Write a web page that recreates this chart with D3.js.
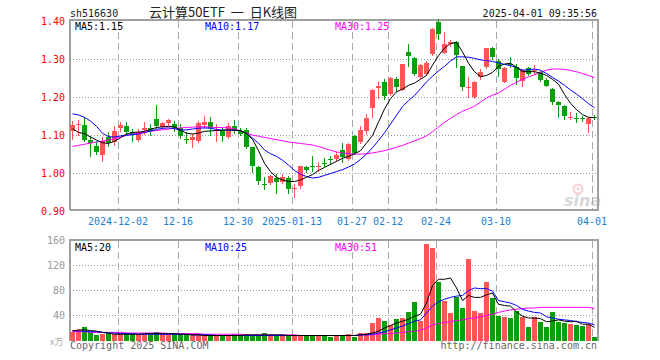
<!DOCTYPE html>
<html>
<head>
<meta charset="utf-8">
<script src="https://cdn.jsdelivr.net/npm/d3@7/dist/d3.min.js"></script>
<style>
body { margin: 0; background: #fff; }
svg { display: block; }
</style>
</head>
<body>
<div id="chart"></div>
<script>
const dates = [
	"2024-11-20","2024-11-21","2024-11-22","2024-11-25","2024-11-26","2024-11-27","2024-11-28","2024-11-29",
	"2024-12-02","2024-12-03","2024-12-04","2024-12-05","2024-12-06","2024-12-09","2024-12-10","2024-12-11","2024-12-12","2024-12-13",
	"2024-12-16","2024-12-17","2024-12-18","2024-12-19","2024-12-20","2024-12-23","2024-12-24","2024-12-25","2024-12-26","2024-12-27",
	"2024-12-30","2024-12-31","2025-01-02","2025-01-03","2025-01-06","2025-01-07","2025-01-08","2025-01-09","2025-01-10",
	"2025-01-13","2025-01-14","2025-01-15","2025-01-16","2025-01-17","2025-01-20","2025-01-21","2025-01-22","2025-01-23","2025-01-24",
	"2025-01-27","2025-02-05","2025-02-06","2025-02-07","2025-02-10","2025-02-11",
	"2025-02-12","2025-02-13","2025-02-14","2025-02-17","2025-02-18","2025-02-19","2025-02-20","2025-02-21",
	"2025-02-24","2025-02-25","2025-02-26","2025-02-27","2025-02-28","2025-03-03","2025-03-04","2025-03-05","2025-03-06","2025-03-07",
	"2025-03-10","2025-03-11","2025-03-12","2025-03-13","2025-03-14","2025-03-17","2025-03-18","2025-03-19","2025-03-20","2025-03-21",
	"2025-03-24","2025-03-25","2025-03-26","2025-03-27","2025-03-28","2025-03-31","2025-04-01"
];

const open = [
	1.111,1.127,1.128,1.088,1.073,1.048,1.095,1.082,1.120,1.126,
	1.110,1.088,1.114,1.120,1.143,1.123,1.134,1.131,1.120,1.091,
	1.088,1.086,1.128,1.136,1.112,1.113,1.095,1.126,1.113,1.115,
	1.069,1.018,0.972,0.974,0.989,0.977,0.987,0.960,0.968,1.018,
	1.019,1.018,1.028,1.039,1.038,1.062,1.038,1.099,1.084,1.113,
	1.172,1.225,1.242,1.210,1.249,1.221,1.321,1.304,1.254,1.263,
	1.315,1.399,1.317,1.342,1.346,1.284,1.226,1.201,1.255,1.280,
	1.330,1.297,1.242,1.289,1.281,1.244,1.278,1.271,1.266,1.247,
	1.222,1.187,1.178,1.146,1.147,1.146,1.130,1.150
];
const high = [
	1.139,1.141,1.149,1.099,1.086,1.095,1.108,1.124,1.135,1.135,
	1.117,1.117,1.136,1.130,1.181,1.135,1.143,1.139,1.130,1.108,
	1.105,1.137,1.152,1.149,1.130,1.121,1.132,1.141,1.120,1.120,
	1.071,1.021,0.992,0.996,0.999,0.999,0.994,0.972,1.021,1.021,
	1.047,1.031,1.040,1.047,1.057,1.079,1.080,1.102,1.126,1.157,
	1.222,1.244,1.249,1.254,1.254,1.289,1.342,1.307,1.289,1.295,
	1.383,1.406,1.372,1.350,1.348,1.284,1.253,1.243,1.275,1.331,
	1.333,1.301,1.279,1.307,1.288,1.275,1.281,1.286,1.269,1.251,
	1.225,1.192,1.181,1.163,1.158,1.152,1.148,1.155
];
const low = [
	1.092,1.102,1.086,1.045,1.051,1.032,1.073,1.076,1.113,1.100,
	1.086,1.086,1.105,1.100,1.121,1.120,1.128,1.113,1.093,1.080,
	1.070,1.082,1.121,1.100,1.086,1.086,1.093,1.107,1.100,1.067,
	1.005,0.972,0.959,0.972,0.950,0.974,0.950,0.939,0.963,1.003,
	1.007,1.006,1.019,1.025,1.032,1.029,1.035,1.051,1.079,1.105,
	1.148,1.200,1.196,1.207,1.218,1.219,1.284,1.258,1.251,1.258,
	1.313,1.355,1.317,1.336,1.280,1.219,1.201,1.199,1.249,1.277,
	1.300,1.257,1.240,1.279,1.236,1.231,1.260,1.262,1.244,1.229,
	1.183,1.149,1.143,1.143,1.135,1.137,1.108,1.143
];
const close = [
	1.128,1.129,1.089,1.079,1.057,1.086,1.080,1.113,1.128,1.108,
	1.100,1.108,1.121,1.111,1.126,1.132,1.140,1.120,1.099,1.089,
	1.095,1.132,1.136,1.120,1.114,1.098,1.126,1.113,1.104,1.071,
	1.020,0.979,0.970,0.994,0.977,0.992,0.959,0.962,1.019,1.009,
	1.018,1.020,1.027,1.038,1.049,1.044,1.078,1.055,1.115,1.146,
	1.220,1.231,1.205,1.251,1.228,1.289,1.308,1.263,1.286,1.290,
	1.381,1.368,1.342,1.345,1.311,1.228,1.228,1.241,1.266,1.329,
	1.306,1.275,1.278,1.287,1.251,1.272,1.262,1.273,1.247,1.231,
	1.189,1.180,1.152,1.148,1.145,1.145,1.146,1.149
];
const volume = [
	13,17,21,14,8,10,12,11,11,12,
	11,11,11,10,14,10,10,11,11,10,
	10,10,10,8,8,8,8,10,11,10,
	8,8,12,8,9,9,8,8,8,8,
	8,8,7,5,7,7,10,6,12,12,
	28,36,32,25,35,36,45,62,31,154,
	148,93,64,44,69,52,130,48,44,93,
	68,39,37,36,48,37,21,37,30,21,
	45,29,28,27,25,23,27,5
];

const ma5 = [
	1.118,1.108,1.105,1.096,1.088,1.081,1.079,1.085,1.094,1.104,
	1.108,1.109,1.111,1.116,1.121,1.123,1.124,1.123,1.114,1.106,
	1.104,1.106,1.111,1.112,1.113,1.114,1.115,1.114,1.113,1.105,
	1.090,1.060,1.027,1.005,0.990,0.983,0.979,0.979,0.983,0.990,
	0.997,1.008,1.016,1.024,1.032,1.040,1.045,1.052,1.060,1.080,
	1.100,1.135,1.170,1.197,1.215,1.222,1.232,1.238,1.248,1.258,
	1.285,1.310,1.330,1.342,1.345,1.320,1.290,1.268,1.255,1.258,
	1.266,1.282,1.288,1.290,1.280,1.268,1.268,1.268,1.264,1.258,
	1.248,1.235,1.208,1.185,1.168,1.155,1.148,1.147
];
const ma10 = [
	1.157,1.154,1.148,1.138,1.124,1.106,1.097,1.096,1.099,1.101,
	1.102,1.104,1.108,1.112,1.116,1.119,1.120,1.118,1.114,1.115,
	1.117,1.119,1.120,1.119,1.116,1.114,1.114,1.113,1.113,1.105,
	1.093,1.080,1.062,1.052,1.045,1.035,1.022,1.008,0.998,0.992,
	0.988,0.990,0.995,1.000,1.005,1.010,1.017,1.025,1.037,1.051,
	1.068,1.087,1.107,1.130,1.153,1.176,1.192,1.205,1.223,1.241,
	1.256,1.270,1.282,1.296,1.307,1.307,1.306,1.303,1.299,1.297,
	1.295,1.291,1.287,1.284,1.279,1.272,1.273,1.275,1.272,1.263,
	1.253,1.243,1.232,1.220,1.209,1.197,1.184,1.173
];
const ma30 = [
	1.071,1.074,1.077,1.080,1.083,1.085,1.088,1.092,1.096,1.100,
	1.104,1.106,1.108,1.111,1.113,1.115,1.117,1.119,1.120,1.121,
	1.122,1.123,1.123,1.122,1.121,1.121,1.120,1.118,1.112,1.106,
	1.101,1.098,1.095,1.092,1.089,1.086,1.083,1.081,1.079,1.077,
	1.075,1.071,1.066,1.061,1.057,1.054,1.052,1.051,1.051,1.052,
	1.054,1.057,1.060,1.064,1.069,1.074,1.080,1.086,1.092,1.099,
	1.110,1.122,1.135,1.145,1.155,1.164,1.170,1.177,1.188,1.199,
	1.206,1.212,1.222,1.232,1.240,1.248,1.254,1.260,1.266,1.272,
	1.275,1.275,1.274,1.271,1.268,1.263,1.258,1.252
];
const volMa5 = [
	15,17,17,16,15,13,12,10,10,10,
	10,10,11,11,11,11,11,11,10,10,
	9,9,8,8,8,8,8,8,8,9,
	9,9,9,9,9,9,8,8,8,8,
	8,8,8,8,8,8,8,8,9,10,
	12,15,20,24,28,31,34,39,42,60,
	88,98,98,100,84,64,72,69,69,73,
	76,58,56,55,46,39,36,36,35,30,
	31,33,31,30,31,26,26,21
];
const volMa10 = [
	16,15,15,14,14,13,12,12,11,11,
	11,10,10,10,10,10,10,10,10,10,
	9,9,9,9,8,8,8,8,8,8,
	8,8,8,8,8,8,8,8,8,8,
	8,8,8,8,8,8,8,8,9,9,
	10,12,14,17,20,23,27,31,33,44,
	55,62,66,69,71,72,80,84,83,83,
	79,64,62,60,56,50,47,45,44,38,
	36,34,33,32,30,29,28,25
];
const volMa30 = [
	14,14,14,13,13,13,13,13,13,12,
	12,12,12,12,12,12,11,11,11,11,
	11,11,10,10,10,10,10,10,10,9,
	9,9,9,9,9,9,9,9,8,8,
	8,8,8,8,8,8,8,8,9,9,
	9,10,11,11,12,13,14,15,16,20,
	25,27,29,30,32,33,35,36,38,40,
	42,45,47,49,50,51,52,52,53,53,
	53,53,53,53,53,53,53,51
];

const priceTicks = [0.9, 1.0, 1.1, 1.2, 1.3, 1.4];
const volTicks = [40, 80, 120, 160];
const dateTicks = ["2024-12-02","2024-12-16","2024-12-30","2025-01-13","2025-01-27","2025-02-12","2025-02-24","2025-03-10","2025-04-01"];
const dateLabels = ["2024-12-02","12-16","12-30","2025-01-13","01-27","02-12","02-24","03-10","04-01"];

const RED = "#ff5555", GREEN = "#08a008";
const mono = "'DejaVu Sans Mono', monospace";

const svg = d3.select("#chart")
	.append("svg")
	.attr("width", 660)
	.attr("height", 360)
	.style("background-color", "white");

const x = d3.scaleBand().domain(dates).range([69.5, 597.5]).paddingInner(1 / 6).paddingOuter(1 / 12);
const y = d3.scaleLinear().domain([0.9, 1.4]).range([211.5, 21.5]);
const vy = d3.scaleLinear().domain([0, 160]).range([340.5, 240.5]);
const left = d => Math.round(x(d));

// grid
svg.append("g")
	.selectAll("line")
	.data([1.0, 1.1, 1.2, 1.3])
	.join("line")
	.attr("x1", 70).attr("x2", 597)
	.attr("y1", d => Math.floor(y(d)) + 0.5).attr("y2", d => Math.floor(y(d)) + 0.5)
	.attr("stroke", "#999").attr("stroke-dasharray", "1,2");

svg.append("g")
	.selectAll("line")
	.data([40, 80, 120])
	.join("line")
	.attr("x1", 70).attr("x2", 597)
	.attr("y1", d => Math.floor(vy(d)) + 0.5).attr("y2", d => Math.floor(vy(d)) + 0.5)
	.attr("stroke", "#999").attr("stroke-dasharray", "1,2");

for (let [y1, y2] of [[21, 209], [241, 340]]) {
	svg.append("g")
		.selectAll("line")
		.data(dateTicks)
		.join("line")
		.attr("x1", d => left(d) + 0.5).attr("x2", d => left(d) + 0.5)
		.attr("y1", y1).attr("y2", y2)
		.attr("stroke", "#aaa").attr("stroke-dasharray", "7,4");
}

// frames
svg.append("path")
	.attr("d", "M70,210V20H598V210H70")
	.attr("fill", "none").attr("stroke", "#a0a0a0").attr("stroke-width", 2);
svg.append("path")
	.attr("d", "M70,341V240H598V341")
	.attr("fill", "none").attr("stroke", "#a0a0a0").attr("stroke-width", 2);

// sina watermark
const logo = svg.append("g").attr("opacity", 0.45);
logo.append("circle").attr("cx", 578).attr("cy", 189).attr("r", 4.5)
	.attr("fill", "none").attr("stroke", "#ef9a9a").attr("stroke-width", 2);
logo.append("circle").attr("cx", 578).attr("cy", 189).attr("r", 1.5).attr("fill", "#ef9a9a");
logo.append("text").attr("x", 564).attr("y", 206)
	.attr("font-family", "'DejaVu Sans', sans-serif").attr("font-size", 16)
	.attr("font-weight", "bold").attr("font-style", "italic")
	.attr("fill", "#a8a8a8").text("sina");

// candles
const idx = d3.range(dates.length);
const up = i => close[i] >= open[i];

svg.append("g")
	.selectAll("line")
	.data(idx)
	.join("line")
	.attr("x1", i => left(dates[i]) + 2.5).attr("x2", i => left(dates[i]) + 2.5)
	.attr("y1", i => Math.round(y(high[i]))).attr("y2", i => Math.round(y(low[i])) + 1)
	.attr("stroke", i => up(i) ? RED : GREEN);

svg.append("g")
	.selectAll("rect")
	.data(idx)
	.join("rect")
	.attr("x", i => left(dates[i]))
	.attr("width", x.bandwidth())
	.attr("y", i => Math.round(y(Math.max(open[i], close[i]))))
	.attr("height", i => Math.max(1, Math.round(y(Math.min(open[i], close[i]))) - Math.round(y(Math.max(open[i], close[i])))))
	.attr("fill", i => up(i) ? RED : GREEN);

// volume bars
svg.append("g")
	.selectAll("rect")
	.data(idx)
	.join("rect")
	.attr("x", i => left(dates[i]))
	.attr("width", x.bandwidth())
	.attr("y", i => Math.round(vy(volume[i])))
	.attr("height", i => 341 - Math.round(vy(volume[i])))
	.attr("fill", i => up(i) ? RED : GREEN);

// moving averages
const mid = i => left(dates[i]) + 2.5;
for (let [data, scale, color] of [
	[ma30, y, "#ff00ff"], [ma10, y, "#0000ff"], [ma5, y, "#000"],
	[volMa30, vy, "#ff00ff"], [volMa10, vy, "#0000ff"], [volMa5, vy, "#000"]
]) {
	svg.append("path")
		.datum(data)
		.attr("fill", "none")
		.attr("stroke", color)
		.attr("stroke-width", 1)
		.attr("d", d3.line().x((d, i) => mid(i)).y(d => scale(d)));
}

// axes
svg.append("g")
	.attr("transform", "translate(70,0)")
	.call(d3.axisLeft(y).tickValues(priceTicks).tickSize(0).tickPadding(5).tickFormat(d3.format(".2f")))
	.call(g => g.select(".domain").remove())
	.selectAll("text")
	.attr("fill", "#ff0000").attr("font-family", mono).attr("font-size", 10);

svg.append("g")
	.attr("transform", "translate(70,0)")
	.call(d3.axisLeft(vy).tickValues(volTicks).tickSize(0).tickPadding(5).tickFormat(d3.format("d")))
	.call(g => g.select(".domain").remove())
	.selectAll("text")
	.attr("fill", "#999").attr("font-family", mono).attr("font-size", 10);

svg.append("g")
	.selectAll("text")
	.data(dateTicks)
	.join("text")
	.attr("x", d => left(d))
	.attr("y", 224.5)
	.attr("text-anchor", "middle")
	.attr("font-family", mono).attr("font-size", 10)
	.attr("fill", "#1a7fd4")
	.text((d, i) => dateLabels[i]);

// texts
const txt = (tx, ty, s, color, anchor, family, size) => svg.append("text")
	.attr("x", tx).attr("y", ty)
	.attr("text-anchor", anchor || "start")
	.attr("font-family", family || mono)
	.attr("font-size", size || 10)
	.attr("fill", color)
	.style("white-space", "pre")
	.text(s);

txt(70, 16.5, "sh516630", "#222");
txt(223, 16.5, "云计算50ETF  一  日K线图", "#222", "middle", "'Noto Sans CJK SC', sans-serif", 13);
txt(597, 16.5, "2025-04-01 09:35:56", "#111", "end");

txt(75, 30, "MA5:" + d3.format(".2f")(ma5[ma5.length - 1]), "#000");
txt(205, 30, "MA10:" + d3.format(".2f")(ma10[ma10.length - 1]), "#0000ff");
txt(335, 30, "MA30:" + d3.format(".2f")(ma30[ma30.length - 1]), "#ff00ff");

txt(75, 250.5, "MA5:20", "#000");
txt(205, 250.5, "MA10:25", "#0000ff");
txt(335, 250.5, "MA30:51", "#ff00ff");

txt(50, 345, "x万", "#aaa", "start", "'Noto Sans CJK SC', sans-serif", 9);
txt(70, 348.5, "Copyright 2025 SINA.COM", "#666");
txt(597, 348.5, "http://finance.sina.com.cn", "#666", "end");
</script>
</body>
</html>
